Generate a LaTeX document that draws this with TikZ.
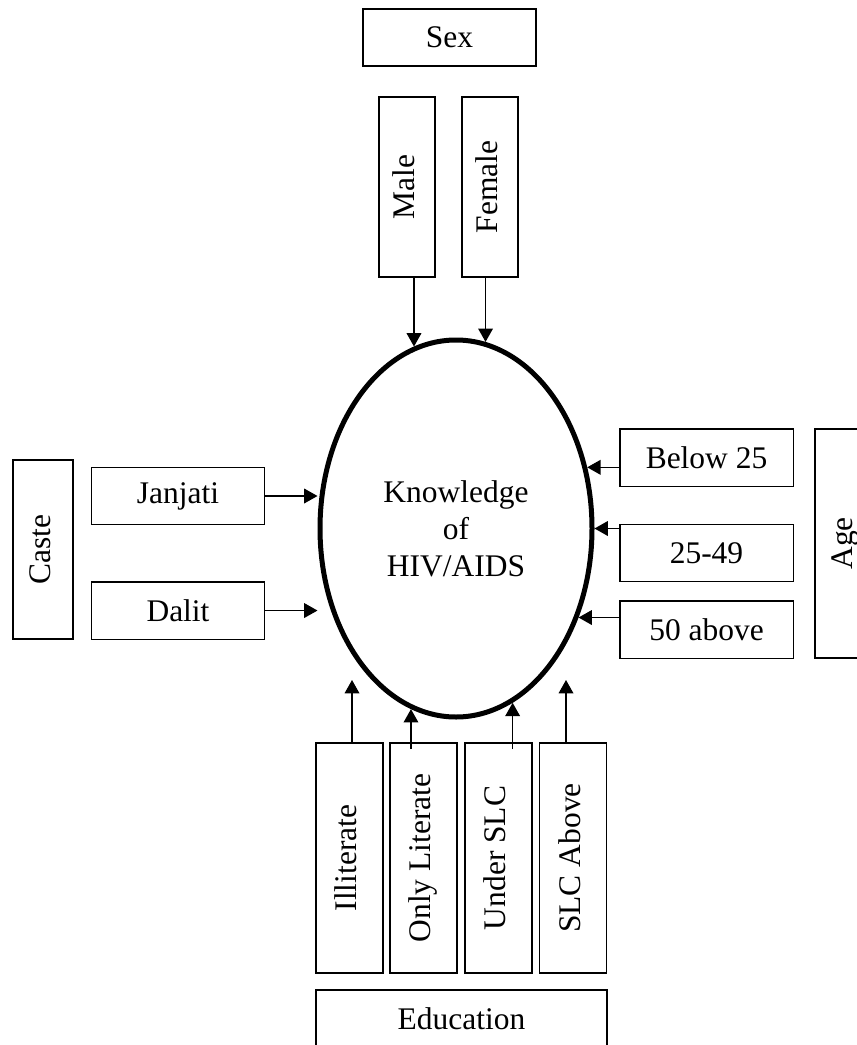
\documentclass[tikz,border=0pt]{standalone}
\usepackage{fontspec}
\setmainfont{Liberation Serif}
\usepackage{graphicx}
\usetikzlibrary{arrows.meta,positioning,shapes.geometric}

\begin{document}
\begin{tikzpicture}[x=0.75pt,y=-0.75pt,on grid,>={Triangle[length=10pt,width=11pt]},
  box/.style={draw,line width=1pt,inner sep=0pt,font=\fontsize{23.6pt}{27.75pt}\selectfont},
  hbox/.style={box,minimum width=130pt,minimum height=43pt},
  vbox/.style={box,minimum width=50.25pt,minimum height=172.5pt},
  link/.style={->,line width=1pt}]
\useasboundingbox (0,0) rectangle (856,1045);

% sex
\node[box,minimum width=129.75pt,minimum height=42.75pt] (sex) at (449.5,37.5) {Sex};
\node[box,minimum width=42pt,minimum height=135pt] (male) at (407,187) {\rotatebox{90}{\strut Male}};
\node[box,minimum width=42pt,minimum height=135pt] (female) [right=62.25pt of male] {\rotatebox{90}{\strut Female}};

% centre
\node[ellipse,draw,line width=3.75pt,inner sep=0pt,minimum width=204pt,minimum height=282.75pt,
  align=center,font=\fontsize{23.6pt}{27.75pt}\selectfont] (ell) at (456,528.5) {Knowledge\\of\\HIV/AIDS};

% caste
\node[box,minimum width=45pt,minimum height=134.25pt] (caste) at (43,549.5) {\rotatebox{90}{\strut Caste}};
\node[hbox] (janjati) at (178,496) {Janjati};
\node[hbox] (dalit) [below=85.9pt of janjati] {Dalit};

% age
\node[hbox] (below25) at (706.5,457.5) {Below 25};
\node[hbox] (mid) [below=71.6pt of below25] {25-49};
\node[hbox] (above50) [below=57.4pt of mid] {50 above};
\node[box,minimum width=45pt,minimum height=171.75pt] (age) at (845,543.5) {\rotatebox{90}{\strut Age}};

% education
\node[vbox] (illit) at (349.5,858) {\rotatebox{90}{\strut Illiterate}};
\node[vbox] (onlylit) [right=55.5pt of illit] {\rotatebox{90}{\strut Only Literate}};
\node[vbox] (undslc) [right=56.25pt of onlylit] {\rotatebox{90}{\strut Under SLC}};
\node[vbox] (slcab) [right=55.9pt of undslc] {\rotatebox{90}{\strut SLC Above}};
\node[box,minimum width=218.25pt,minimum height=43.5pt] (edu) at (461.5,1019) {Education};

\coordinate (illTip) at (352,680);
\coordinate (slcTip) at (566,680);
\path[link]
  (ell.103 |- male.south) edge (ell.103)
  (ell.81 |- female.south) edge (ell.81)
  (janjati) edge (janjati -| ell.west)
  (dalit) edge (dalit -| ell.west)
  (ell.25 -| below25.west) edge (ell.25)
  (ell.east -| mid.west) edge (ell.east)
  (ell.-36 -| above50.west) edge (ell.-36)
  (illTip |- illit.north) edge (illTip)
  (ell.-104 |- onlylit.north) edge[shorten <=-5pt] (ell.-104)
  (ell.-72 |- undslc.north) edge[shorten <=-5pt] (ell.-72)
  (slcTip |- slcab.north) edge (slcTip);
\end{tikzpicture}
\end{document}
